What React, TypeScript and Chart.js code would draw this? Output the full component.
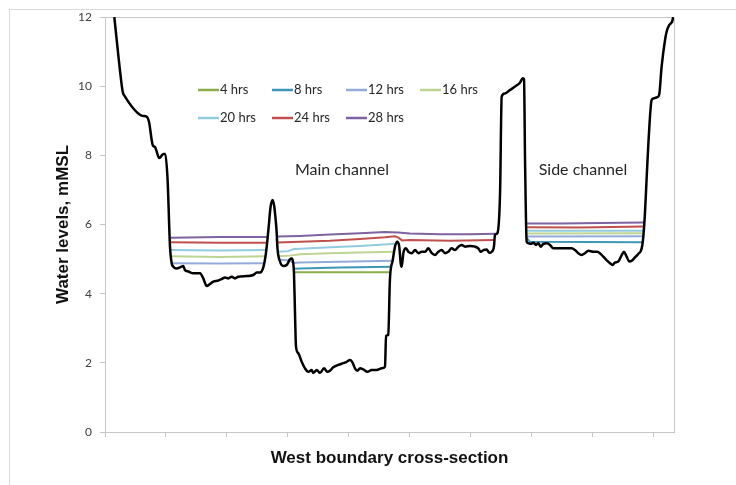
import React, { useEffect, useRef } from "react";
import { Chart, registerables } from "chart.js";

Chart.register(...registerables);

// Cross-section station (axis units, ticks every 30) and ground elevation (mMSL)
const GROUND_X = [
  4.58, 7.73, 8.71, 9.84, 18.55, 20.47, 21.65, 23.47, 24.6, 26.72, 28.69, 29.67, 30.8, 31.99, 32.82, 33.61,
  35.28, 36.9, 38.53, 39.37, 41.0, 43.45, 46.75, 48.37, 50.05, 51.67, 53.29, 55.75, 57.39, 59.05, 60.67,
  62.35, 63.97, 65.6, 69.73, 72.98, 74.65, 76.27, 77.9, 79.2, 80.4, 81.5, 82.5, 83.3, 83.66, 84.5, 84.8,
  86.1, 87.74, 89.4, 91.0, 91.85, 92.64, 93.0, 93.5, 93.99, 95.12, 96.79, 98.4, 100.05, 101.7, 102.5,
  104.2, 105.8, 107.8, 109.4, 110.7, 112.3, 114.8, 117.3, 118.9, 120.6, 121.9, 123.0, 124.2, 125.5,
  127.1, 129.1, 131.2, 133.7, 136.2, 137.8, 138.3, 139.4, 140.2, 141.6, 142.7, 143.8, 144.8, 145.5,
  146.0, 146.8, 148.1, 149.3, 150.9, 152.6, 154.2, 155.8, 157.5, 159.1, 160.8, 162.4, 164.0, 165.7,
  167.3, 168.9, 170.6, 172.2, 173.9, 175.5, 177.2, 179.6, 182.1, 183.7, 184.9, 186.2, 187.8, 189.1,
  190.3, 191.4, 191.9, 193.1, 194.4, 195.2, 196.8, 199.3, 201.8, 204.2, 205.6, 206.2, 206.7, 207.5,
  208.3, 209.5, 210.8, 212.1, 213.2, 214.4, 215.7, 217.4, 219.0, 220.6, 223.9, 227.2, 229.6, 231.3,
  232.9, 234.5, 236.2, 237.8, 240.3, 242.2, 243.9, 245.2, 246.8, 248.5, 249.8, 250.9, 252.6, 254.3,
  255.4, 256.7, 258.0, 259.2, 260.8, 262.4, 264.1, 264.9, 265.7, 266.5, 267.4, 269.0, 270.2, 271.8,
  272.7, 273.9, 275.6, 276.4, 277.7, 278.5, 279.1, 279.6,
];
const GROUND_Y = [
  12.0, 10.27, 9.84, 9.7, 9.14, 9.12, 8.97, 8.3, 8.24, 7.92, 8.04, 8.04, 7.29, 5.36, 4.88, 4.78,
  4.73, 4.76, 4.8, 4.68, 4.64, 4.59, 4.59, 4.44, 4.22, 4.28, 4.35, 4.38, 4.42, 4.47, 4.44,
  4.49, 4.44, 4.49, 4.51, 4.54, 4.61, 4.61, 4.76, 5.17, 5.84, 6.52, 6.71, 6.52, 6.33, 5.75, 5.36,
  4.93, 4.8, 4.83, 4.99, 5.02, 4.88, 4.59, 3.43, 2.47, 2.28, 2.03, 1.84, 1.74, 1.79, 1.71,
  1.79, 1.71, 1.84, 1.74, 1.77, 1.87, 1.94, 1.99, 2.03, 2.08, 2.0, 1.84, 1.77, 1.84,
  1.81, 1.74, 1.79, 1.79, 1.84, 1.89, 2.78, 2.81, 4.4, 4.97, 5.36, 5.5, 5.36, 4.88,
  4.78, 5.17, 5.31, 5.21, 5.17, 5.26, 5.17, 5.21, 5.21, 5.31, 5.17, 5.12, 5.21, 5.26,
  5.17, 5.21, 5.31, 5.26, 5.36, 5.41, 5.36, 5.38, 5.36, 5.31, 5.21, 5.26, 5.28, 5.18,
  5.21, 5.36, 5.7, 5.75, 6.9, 9.7, 9.79, 9.89, 9.99, 10.1, 10.23, 10.2, 7.87, 5.5,
  5.46, 5.44, 5.47, 5.41, 5.46, 5.36, 5.44, 5.46, 5.41, 5.31, 5.31, 5.31, 5.31, 5.26,
  5.17, 5.12, 5.17, 5.24, 5.21, 5.21, 5.15, 5.07, 4.97, 4.88, 4.83, 4.9, 4.93, 5.12,
  5.21, 5.07, 4.93, 4.95, 5.05, 5.15, 5.31, 5.65, 6.32, 7.29, 8.35, 9.6, 9.65, 9.68,
  9.75, 10.56, 11.34, 11.58, 11.77, 11.82, 11.87, 12.0,
];

// Water levels (null = break between channel reaches)
const H4_X = [93.3, 140.5];
const H4_Y = [4.62, 4.62];

const H8_X = [92.5, 96.0, 115.6, 141.2, 180, 207.7, 209.1, 264.6];
const H8_Y = [4.72, 4.73, 4.76, 4.78, null, 5.6, 5.5, 5.49];

const H12_X = [32.5, 56.6, 77.7, 82, 86.1, 91.0, 92.5, 96.0, 115.6, 141.2, 180, 207.7, 265.2];
const H12_Y = [4.88, 4.87, 4.88, null, 4.98, 4.96, 4.89, 4.9, 4.92, 4.95, null, 5.65, 5.66];

const H16_X = [32.5, 56.6, 79.2, 82, 85.1, 91.0, 96.0, 110.7, 125.5, 142.2, 180, 207.7, 265.2];
const H16_Y = [5.08, 5.06, 5.08, null, 5.08, 5.1, 5.14, 5.17, 5.19, 5.21, null, 5.74, 5.75];

const H20_X = [32.5, 56.6, 79.5, 82, 85.1, 90.1, 93.0, 96.0, 110.7, 125.5, 143.2, 180, 207.7, 265.2];
const H20_Y = [5.26, 5.25, 5.26, null, 5.21, 5.23, 5.29, 5.3, 5.34, 5.38, 5.44, null, 5.82, 5.82];

const H24_X = [32.5, 56.6, 79.7, 82, 84.8, 96.0, 110.7, 125.5, 137.8, 142.7, 144.4, 146.2, 150.1, 169.8, 191.4, 200, 207.7, 233.7, 265.2];
const H24_Y = [5.49, 5.47, 5.47, null, 5.48, 5.5, 5.53, 5.58, 5.63, 5.66, 5.62, 5.54, 5.55, 5.53, 5.55, null, 5.92, 5.91, 5.94];

const H28_X = [32.5, 56.6, 79.7, 82, 84.8, 96.0, 110.7, 125.5, 137.8, 144.2, 150.1, 164.9, 179.6, 192.4, 200, 207.7, 223.9, 243.6, 265.2];
const H28_Y = [5.62, 5.64, 5.64, null, 5.65, 5.67, 5.71, 5.75, 5.78, 5.77, 5.74, 5.72, 5.72, 5.73, null, 6.03, 6.03, 6.04, 6.06];

const SERIES_NAMES = ["4 hrs", "8 hrs", "12 hrs", "16 hrs", "20 hrs", "24 hrs", "28 hrs"];
const SERIES_COLORS = ["#8AAE4A", "#3E97B7", "#93ABDA", "#BDD493", "#92CCDE", "#C0504D", "#7F62A1"];
const SERIES_X = [H4_X, H8_X, H12_X, H16_X, H20_X, H24_X, H28_X];
const SERIES_Y = [H4_Y, H8_Y, H12_Y, H16_Y, H20_Y, H24_Y, H28_Y];

const CHANNEL_LABELS = ["Main channel", "Side channel"];

const Y_TITLE = "Water levels, mMSL";
const X_TITLE = "West boundary cross-section";

const toPoints = (xs: number[], ys: (number | null)[]) => xs.map((x, i) => ({ x, y: ys[i] }));

const decorPlugin = {
  id: "decor",
  beforeDatasetsDraw(chart: any) {
    const { ctx, chartArea } = chart;
    const { left, right, top, bottom } = chartArea;
    ctx.save();
    ctx.strokeStyle = "#c6c6c6";
    ctx.lineWidth = 1;
    ctx.beginPath();
    ctx.moveTo(left, Math.round(top) + 0.5);
    ctx.lineTo(Math.round(right) + 0.5, Math.round(top) + 0.5);
    ctx.lineTo(Math.round(right) + 0.5, bottom);
    ctx.stroke();
    ctx.restore();
  },
  afterDraw(chart: any) {
    const { ctx, chartArea, scales } = chart;
    const { left, top } = chartArea;
    ctx.save();
    // legend
    ctx.font = "13px Lato";
    ctx.textBaseline = "middle";
    ctx.textAlign = "left";
    SERIES_NAMES.forEach((name, i) => {
      const row = Math.floor(i / 4);
      const col = i % 4;
      const x0 = left + 93 + col * 74;
      const y0 = top + 73 + row * 28;
      ctx.strokeStyle = SERIES_COLORS[i];
      ctx.lineWidth = 2.5;
      ctx.beginPath();
      ctx.moveTo(x0, y0);
      ctx.lineTo(x0 + 21, y0);
      ctx.stroke();
      ctx.fillStyle = "#262626";
      ctx.fillText(name, x0 + 22, y0);
    });
    // channel labels
    ctx.font = "16px Lato";
    ctx.textAlign = "center";
    ctx.fillStyle = "#262626";
    const anchors = [116.6, 235.2];
    CHANNEL_LABELS.forEach((t, i) => {
      ctx.fillText(t, scales.x.getPixelForValue(anchors[i]), scales.y.getPixelForValue(7.58));
    });
    ctx.restore();
  },
};

export default function App() {
  const ref = useRef<HTMLCanvasElement | null>(null);

  useEffect(() => {
    if (!ref.current) return;
    const datasets: any[] = [
      {
        label: "Ground",
        data: toPoints(GROUND_X, GROUND_Y),
        borderColor: "#000000",
        borderWidth: 2.5,
        pointRadius: 0,
        cubicInterpolationMode: "monotone",
        fill: false,
      },
    ];
    for (let i = SERIES_NAMES.length - 1; i >= 0; i--) {
      datasets.push({
        label: SERIES_NAMES[i],
        data: toPoints(SERIES_X[i], SERIES_Y[i]),
        borderColor: SERIES_COLORS[i],
        borderWidth: 2,
        pointRadius: 0,
        tension: 0,
        spanGaps: false,
        fill: false,
      });
    }
    const chart = new Chart(ref.current, {
      type: "line",
      data: { datasets },
      options: {
        responsive: false,
        animation: false,
        layout: { padding: { left: 0, top: 17, right: 62, bottom: 0 } },
        plugins: { legend: { display: false }, tooltip: { enabled: false } },
        scales: {
          x: {
            type: "linear",
            min: 0,
            max: 280,
            ticks: { stepSize: 30, display: false, includeBounds: false },
            grid: { drawOnChartArea: false, drawTicks: true, tickLength: 5, color: "#c6c6c6" },
            border: { color: "#c6c6c6", width: 1 },
            title: {
              display: true,
              text: X_TITLE,
              color: "#111111",
              font: { family: "Liberation Sans", size: 17, weight: "bold" },
              padding: { top: 0, bottom: 16 },
            },
            afterFit: (s: any) => {
              s.height = 53;
            },
          },
          y: {
            min: 0,
            max: 12,
            ticks: {
              stepSize: 2,
              color: "#404040",
              padding: 8,
              font: { family: "Lato", size: 12 },
            },
            grid: { drawOnChartArea: false, drawTicks: true, tickLength: 5, color: "#c6c6c6" },
            border: { color: "#c6c6c6", width: 1 },
            title: {
              display: true,
              text: Y_TITLE,
              color: "#111111",
              font: { family: "Liberation Sans", size: 17, weight: "bold" },
              padding: { top: 53, bottom: 0 },
            },
            afterFit: (s: any) => {
              s.width = 105;
            },
          },
        },
      },
      plugins: [decorPlugin],
    } as any);
    return () => chart.destroy();
  }, []);

  return (
    <div style={{ position: "fixed", left: 0, top: 0, width: 736, height: 485, background: "#ffffff" }}>
      <div
        style={{
          position: "absolute",
          left: 9,
          top: 9,
          right: 0,
          bottom: 0,
          borderTop: "1px solid #d9d9d9",
          borderLeft: "1px solid #d9d9d9",
          pointerEvents: "none",
        }}
      />
      <canvas ref={ref} width={736} height={485} style={{ position: "absolute", left: 0, top: 0 }} />
    </div>
  );
}
